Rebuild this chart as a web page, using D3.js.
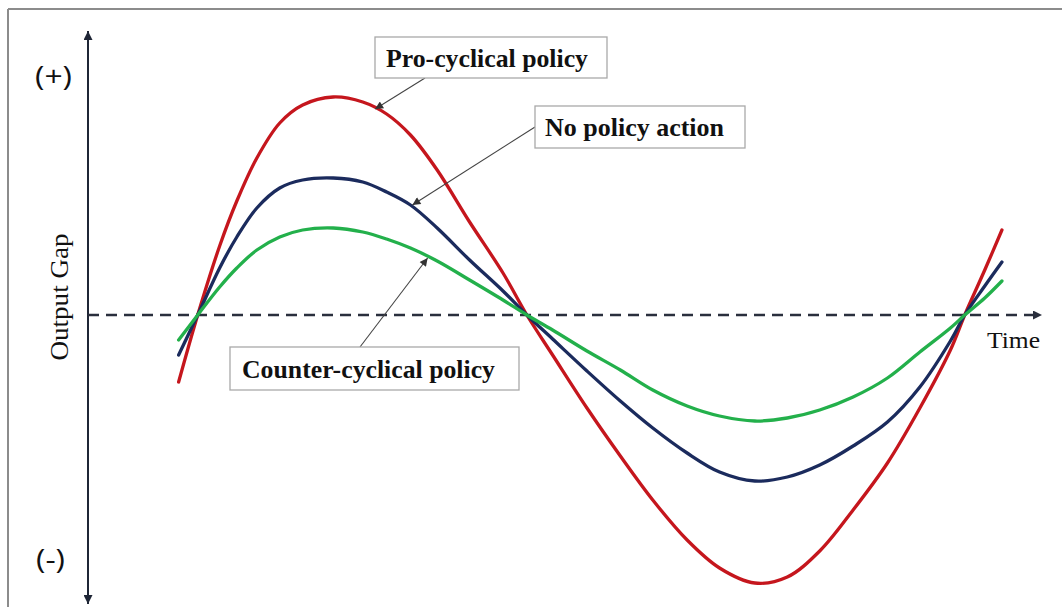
<!DOCTYPE html>
<html><head><meta charset="utf-8">
<script src="https://cdn.jsdelivr.net/npm/d3@7"></script>
<style>body{margin:0;background:#fff}svg{display:block}</style>
</head><body>
<svg id="chart" width="1062" height="607"></svg>
<script>
// ---- data ----
const time = [9.5,11.5,13.8,15.6,17.7,20.1,22.5,25.7,28.8,31.3,33.8,36.6,40.0,43.5,46.0,48.7,52.3,55.8,59.2,62.8,66.2,69.9,73.3,76.7,80.2,83.8,87.2,90.4,91.9,94.0,95.8];
const proCyclical = [-3.35,0,3.45,5.7,7.85,9.6,10.5,10.9,10.65,10.05,9.0,7.25,4.65,2.1,0,-2.0,-4.65,-7.05,-9.25,-11.25,-12.65,-13.4,-13.1,-11.8,-9.75,-7.4,-4.65,-1.75,0,2.25,4.25];
const noPolicy = [-2.0,0,2.35,3.9,5.35,6.35,6.75,6.85,6.65,6.15,5.5,4.35,2.75,1.2,0,-1.2,-2.8,-4.3,-5.65,-6.9,-7.85,-8.3,-8.1,-7.5,-6.55,-5.35,-3.6,-1.3,0,1.45,2.65];
const counterCyclical = [-1.25,0,1.4,2.35,3.25,3.9,4.25,4.35,4.15,3.8,3.35,2.7,1.75,0.75,0,-0.75,-1.8,-2.75,-3.75,-4.55,-5.05,-5.3,-5.15,-4.75,-4.1,-3.15,-1.85,-0.65,0,0.85,1.7];
const seriesNames = ["Pro-cyclical policy","No policy action","Counter-cyclical policy"];
const seriesColors = ["#c5161d","#1b2b5d","#23b04b"];
const axisLabels = ["(+)","(-)","Output Gap","Time"];
// arrow tips (time, gap) for each series label
const labelTipTime = [30.1, 34.0, 35.6];
const labelTipGap = [10.3, 5.5, 2.85];

// ---- layout ----
const svg = d3.select("#chart");
const x = d3.scaleLinear().domain([0,100]).range([88,1042]);
const y = d3.scaleLinear().domain([-14,14]).range([595,35]);

const defs = svg.append("defs");
function marker(id, color, w, h){
  defs.append("marker").attr("id",id).attr("viewBox","0 0 10 10")
    .attr("refX",10).attr("refY",5).attr("markerUnits","userSpaceOnUse")
    .attr("markerWidth",w).attr("markerHeight",h).attr("orient","auto")
    .append("path").attr("d","M0,0L10,5L0,10Z").attr("fill",color);
}
marker("axArrow","#1f2636",10,9);
marker("dashArrow","#2a2f3d",10,9);
marker("noteArrow","#333",11,8);

// frame (top and left edges)
svg.append("line").attr("x1",8).attr("y1",9).attr("x2",1062).attr("y2",9)
  .attr("stroke","#8c8c8c").attr("stroke-width",2);
svg.append("line").attr("x1",8).attr("y1",9).attr("x2",8).attr("y2",607)
  .attr("stroke","#8c8c8c").attr("stroke-width",2);

// vertical axis (double arrow)
const x0 = x(0);
svg.append("line").attr("x1",x0).attr("y1",y(0)).attr("x2",x0).attr("y2",31)
  .attr("stroke","#1f2636").attr("stroke-width",2).attr("marker-end","url(#axArrow)");
svg.append("line").attr("x1",x0).attr("y1",y(0)).attr("x2",x0).attr("y2",604)
  .attr("stroke","#1f2636").attr("stroke-width",2).attr("marker-end","url(#axArrow)");

// dashed time axis
svg.append("line").attr("x1",x0).attr("y1",y(0)).attr("x2",x(100)).attr("y2",y(0))
  .attr("stroke","#2a2f3d").attr("stroke-width",2.5).attr("stroke-dasharray","11,7")
  .attr("marker-end","url(#dashArrow)");

// curves
const series = [proCyclical, noPolicy, counterCyclical];
const line = d3.line().x((d,i)=>x(time[i])).y(d=>y(d)).curve(d3.curveCatmullRom.alpha(0.5));
series.forEach((s,k)=>{
  svg.append("path").attr("d",line(s)).attr("fill","none")
    .attr("stroke",seriesColors[k]).attr("stroke-width",3.3)
    .attr("stroke-linecap","round");
});

// axis labels
svg.append("text").attr("x",35).attr("y",86).attr("font-family","'Open Sans', 'Liberation Sans', sans-serif")
  .attr("font-size",27).attr("textLength",37).attr("lengthAdjust","spacingAndGlyphs")
  .attr("fill","#111").text(axisLabels[0]);
svg.append("text").attr("x",36).attr("y",569).attr("font-family","'Open Sans', 'Liberation Sans', sans-serif")
  .attr("font-size",27).attr("textLength",29).attr("lengthAdjust","spacingAndGlyphs")
  .attr("fill","#111").text(axisLabels[1]);
svg.append("text").attr("transform","translate(68,297) rotate(-90)").attr("text-anchor","middle")
  .attr("font-family","'Liberation Serif', 'Times New Roman', serif").attr("font-size",25)
  .attr("textLength",127).attr("lengthAdjust","spacingAndGlyphs")
  .attr("fill","#111").text(axisLabels[2]);
svg.append("text").attr("x",987).attr("y",348)
  .attr("font-family","'Liberation Serif', 'Times New Roman', serif").attr("font-size",24)
  .attr("textLength",53).attr("lengthAdjust","spacingAndGlyphs")
  .attr("fill","#111").text(axisLabels[3]);

// annotation boxes
const boxes = [
  {bx:375, by:37, bw:232, bh:41, tx:386, ty:67, tl:202, sx:425, sy:78},
  {bx:535, by:106, bw:210, bh:42, tx:545, ty:136, tl:179, sx:535, sy:127},
  {bx:230, by:347, bw:289, bh:43, tx:242, ty:378, tl:253, sx:360, sy:347}
];
boxes.forEach((b,k)=>{
  svg.append("line").attr("x1",b.sx).attr("y1",b.sy)
    .attr("x2",x(labelTipTime[k])).attr("y2",y(labelTipGap[k]))
    .attr("stroke","#444").attr("stroke-width",1.1).attr("marker-end","url(#noteArrow)");
  svg.append("rect").attr("x",b.bx).attr("y",b.by).attr("width",b.bw).attr("height",b.bh)
    .attr("fill","#fff").attr("stroke","#a9a9a9").attr("stroke-width",1.3);
  svg.append("text").attr("x",b.tx).attr("y",b.ty)
    .attr("font-family","'Liberation Serif', 'Times New Roman', serif").attr("font-weight","bold")
    .attr("font-size",26).attr("textLength",b.tl).attr("lengthAdjust","spacingAndGlyphs")
    .attr("fill","#111").text(seriesNames[k]);
});
</script>
</body></html>
